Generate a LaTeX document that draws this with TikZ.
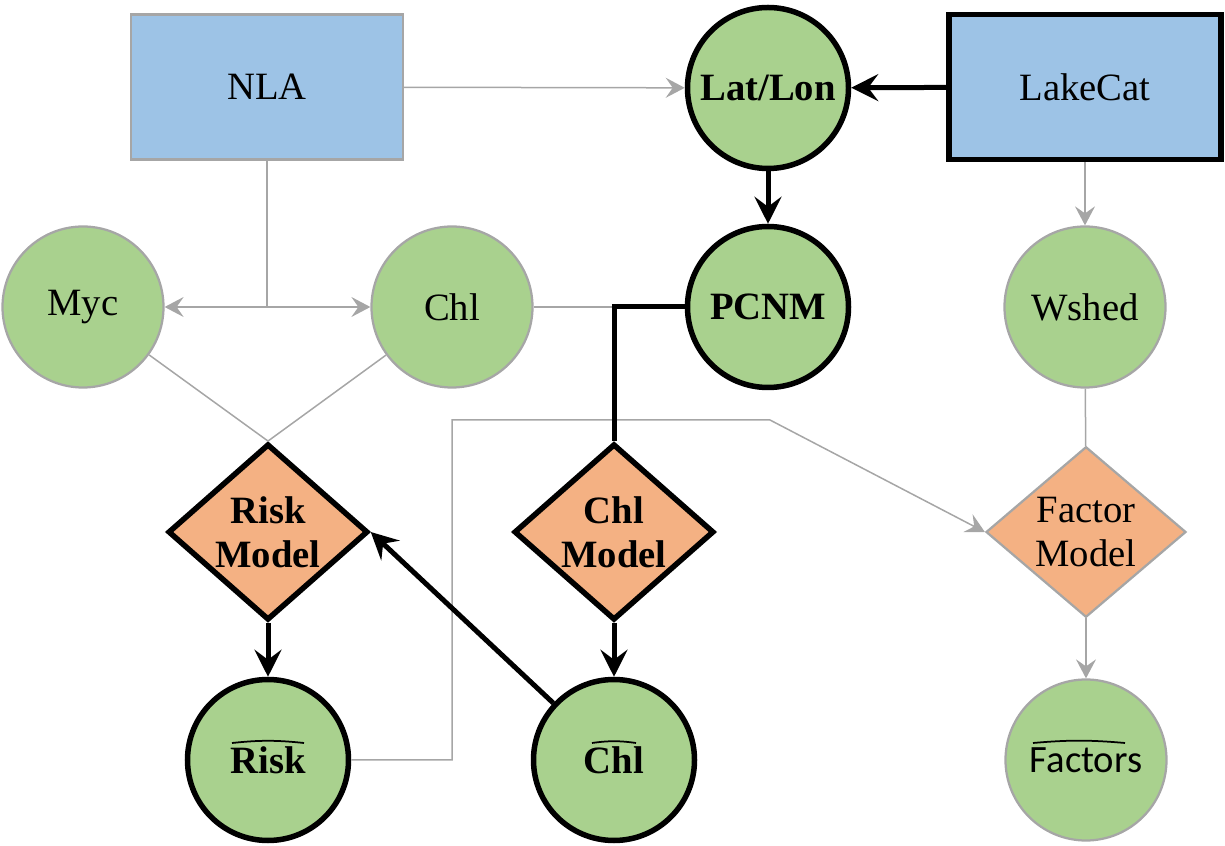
\documentclass[tikz,border=0pt]{standalone}
\usepackage{fontspec}
\setmainfont{Liberation Serif}
\newfontfamily\calfont{Carlito}
\usetikzlibrary{shapes.geometric,arrows.meta,positioning,calc}
\definecolor{srcblue}{HTML}{9DC3E6}
\definecolor{vargreen}{HTML}{A9D18E}
\definecolor{modelorange}{HTML}{F4B183}
\definecolor{lgray}{HTML}{A6A6A6}

\begin{document}
\begin{tikzpicture}[
    x=0.2mm, y=-0.2mm,
    font=\fontsize{22}{25}\selectfont,
    src/.style={rectangle, draw=lgray, line width=0.45mm, fill=srcblue, minimum width=54.4mm, minimum height=29mm},
    srcb/.style={src, draw=black, line width=1.1mm},
    var/.style={circle, draw=lgray, line width=0.45mm, fill=vargreen, minimum size=32.2mm, inner sep=0pt},
    varb/.style={var, draw=black, line width=1.1mm, font=\fontsize{22}{25}\selectfont\bfseries},
    model/.style={diamond, draw=lgray, line width=0.45mm, fill=modelorange, minimum width=40mm, minimum height=33.2mm, inner sep=0pt, align=center},
    modelb/.style={model, draw=black, line width=1.1mm, font=\fontsize{22}{25}\selectfont\bfseries},
    gline/.style={draw=lgray, line width=0.3mm},
    garrow/.style={gline, -{Stealth[length=3.8mm, width=4mm, inset=1.4mm]}},
    bline/.style={draw=black, line width=1mm},
    barrow/.style={bline, -{Stealth[length=5.4mm, width=5.4mm, inset=2mm]}},
    hat/.style={draw=black, line width=0.35mm}
]
\useasboundingbox (0,0) rectangle (1225,846);

% Sources
\node[src] (nla) at (267,87) {NLA};
\node[srcb] (lakecat) at (1085,87) {LakeCat};

% Variables
\node[varb] (latlon) at (768,88) {Lat/Lon};
\node[varb] (pcnm) at (768,307) {PCNM};
\node[var] (myc) at (83,307) {Myc};
\node[var] (chl) at (452,307) {Chl};
\node[var] (wshed) at (1085,307) {Wshed};

% Models
\node[modelb] (riskmodel) at (268,532) {Risk\\Model};
\node[modelb] (chlmodel) at (614,532) {Chl\\Model};
\node[model] (factormodel) at (1086,532) {Factor\\Model};

% Predictions
\node[varb] (riskhat) at (268,760) {Risk};
\node[varb] (chlhat) at (614,760) {Chl};
\node[var, font=\fontsize{22}{25}\calfont] (factorshat) at (1086,760) {Factors};
\draw[hat] ($(riskhat.center)+(-36,-17)$) to[bend left=6] ++(72,0);
\draw[hat] ($(chlhat.center)+(-22,-17)$) to[bend left=8] ++(44,0);
\draw[hat] ($(factorshat.center)+(-53,-17)$) to[bend left=5] ++(92,0);

% Bend points
\coordinate (nlasplit) at (267,307);
\coordinate (chlsplit) at (614,307);
\coordinate (bendA) at (452,420);
\coordinate (bendB) at (770,420);

% Gray connectors
\draw[garrow] (nla) -- (latlon);
\draw[gline] (nla.south) -- (nlasplit);
\draw[garrow] (nlasplit) -- (myc);
\draw[garrow] (nlasplit) -- (chl);
\draw[gline] (chl) -- (chlsplit);
\draw[gline] (myc) -- (riskmodel.north);
\draw[gline] (chl) -- (riskmodel.north);
\draw[garrow] (lakecat) -- (wshed);
\draw[gline] (wshed) -- (factormodel);
\draw[garrow] (factormodel) -- (factorshat);
\draw[garrow] (riskhat.east) -| (bendA) -- (bendB) -- (factormodel.west);

% Black connectors
\draw[barrow] (lakecat) -- (latlon);
\draw[barrow] (latlon) -- (pcnm);
\draw[bline] (pcnm) -- (chlsplit) -- (chlmodel.north);
\draw[barrow] (riskmodel) -- (riskhat);
\draw[barrow] (chlmodel) -- (chlhat);
\draw[barrow] (chlhat) -- (riskmodel.east);

\end{tikzpicture}
\end{document}
